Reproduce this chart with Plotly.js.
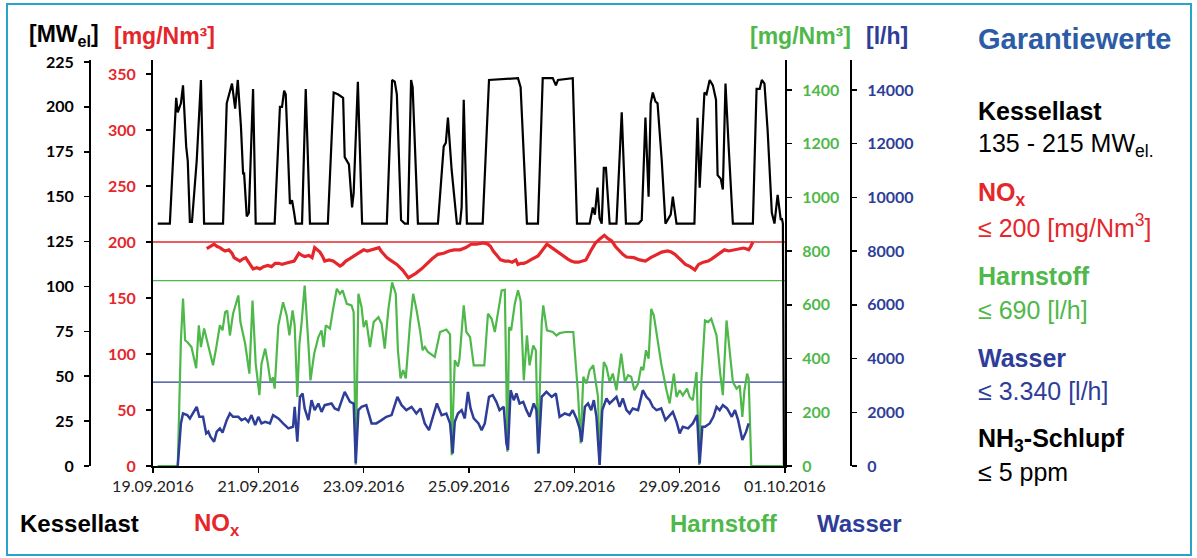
<!DOCTYPE html>
<html><head><meta charset="utf-8">
<script src="https://cdn.plot.ly/plotly-3.0.1.min.js"></script>
<style>html,body{margin:0;padding:0;background:#fff}#chart{width:1197px;height:558px}</style>
</head><body><div id="chart"></div>
<script>
// ---------- data (x = days after 19.09.2016 00:00) ----------
const tickDates = ['2016-09-19','2016-09-21','2016-09-23','2016-09-25','2016-09-27','2016-09-29','2016-10-01'];
const tickLabels = ['19.09.2016','21.09.2016','23.09.2016','25.09.2016','27.09.2016','29.09.2016','01.10.2016'];

const mwTicks = [0,25,50,75,100,125,150,175,200,225];
const noxTicks = [0,50,100,150,200,250,300,350];
const harnTicks = [0,200,400,600,800,1000,1200,1400];
const wasserTicks = [0,2000,4000,6000,8000,10000,12000,14000];

const kesselDays = [0.09,0.32,0.44,0.47,0.53,0.57,0.63,0.66,0.70,0.74,0.83,0.91,0.97,1.33,1.40,1.50,1.56,1.61,1.67,1.71,1.73,1.78,1.82,1.90,1.95,2.31,2.41,2.45,2.49,2.52,2.60,2.64,2.68,2.71,2.83,2.90,2.98,3.32,3.43,3.51,3.61,3.64,3.72,3.78,3.81,3.89,3.97,4.44,4.54,4.59,4.63,4.71,4.78,4.84,4.90,4.93,5.03,5.41,5.52,5.56,5.60,5.67,5.77,5.83,5.86,5.90,5.96,6.26,6.38,6.93,6.98,7.10,7.31,7.40,7.59,7.65,7.69,7.97,8.05,8.29,8.35,8.39,8.44,8.48,8.52,8.56,8.60,8.67,8.80,8.90,8.98,9.22,9.28,9.35,9.41,9.45,9.49,9.54,9.58,9.66,9.73,9.83,9.87,9.94,10.28,10.34,10.38,10.44,10.47,10.51,10.57,10.63,10.69,10.72,10.78,10.82,10.87,10.93,11.01,11.39,11.46,11.52,11.56,11.61,11.67,11.75,11.80,11.86,11.92,11.94,11.96,11.98];
const kesselMW = [135,135,205,197,202,212,178,170,136,136,170,215,135,135,202,213,199,215,189,163,163,139,141,210,135,135,200,200,209,207,146,148,141,135,135,210,135,135,208,207,205,172,168,144,152,214,135,135,215,214,207,137,135,135,215,211,135,135,178,180,194,165,135,135,144,204,135,135,215,216,211,135,135,216,216,212,215,216,135,135,144,140,155,138,135,166,166,135,135,197,135,135,137,194,150,202,208,203,202,170,135,140,150,135,135,194,155,190,208,207,215,212,204,162,160,154,213,178,135,135,210,210,215,213,187,141,135,151,137,138,135,0];

const noxDays = [1.02,1.09,1.16,1.22,1.27,1.33,1.37,1.44,1.50,1.54,1.60,1.65,1.71,1.76,1.83,1.90,1.97,2.03,2.10,2.18,2.25,2.32,2.39,2.45,2.52,2.60,2.68,2.72,2.77,2.83,2.88,2.96,3.02,3.07,3.12,3.17,3.22,3.26,3.34,3.42,3.48,3.55,3.60,3.66,3.73,3.80,3.90,4.00,4.07,4.14,4.22,4.29,4.33,4.38,4.44,4.50,4.56,4.63,4.74,4.85,4.92,4.99,5.10,5.20,5.30,5.41,5.52,5.62,5.72,5.83,5.94,6.04,6.14,6.25,6.30,6.36,6.41,6.46,6.53,6.60,6.68,6.75,6.82,6.89,6.93,6.99,7.04,7.10,7.17,7.24,7.31,7.40,7.48,7.57,7.66,7.73,7.80,7.87,7.94,8.01,8.08,8.15,8.22,8.31,8.40,8.49,8.57,8.64,8.71,8.78,8.85,8.92,8.99,9.06,9.13,9.24,9.35,9.45,9.56,9.66,9.77,9.84,9.91,10.01,10.11,10.20,10.29,10.33,10.36,10.45,10.54,10.61,10.68,10.76,10.85,10.93,11.02,11.11,11.21,11.26,11.31,11.35,11.39];
const noxValues = [194,196,198,196,195,193,192,193,190,186,184,183,185,186,181,176,177,176,178,179,178,181,181,180,181,182,183,186,190,188,187,188,186,195,193,191,187,183,184,183,181,178.5,180,183,185,187,190,193,192,193,194,195,192,189,186,184,182,180,175,168,170,172,176,181,185,189,190,192,193,193,195,198,198,199,199,198,196,192,188,184,183,183,182,184,180,181,181,182,184,186,187.5,193,198,195,192,189,187,185,183,182,182,183,184,192,199,203,206,203,201,196,192,189,186.6,186,186,184,183,186,189,191,192,191,189,184,180,178,175,178,180,182,183,185,187.5,190,193,192,193,194,194.6,194,193,196,200];

const harnDays = [0.09,0.47,0.53,0.57,0.61,0.66,0.73,0.82,0.87,0.91,0.97,1.04,1.14,1.20,1.27,1.32,1.37,1.41,1.46,1.52,1.62,1.66,1.75,1.83,1.89,1.95,2.02,2.06,2.13,2.17,2.23,2.28,2.31,2.38,2.47,2.54,2.59,2.65,2.69,2.74,2.78,2.82,2.88,2.95,2.99,3.06,3.14,3.20,3.24,3.28,3.36,3.41,3.49,3.55,3.60,3.68,3.77,3.81,3.85,3.90,3.96,4.00,4.05,4.12,4.19,4.28,4.34,4.40,4.47,4.54,4.61,4.65,4.70,4.75,4.80,4.88,4.94,5.00,5.07,5.12,5.16,5.22,5.35,5.45,5.57,5.64,5.67,5.73,5.79,5.82,5.90,5.95,6.02,6.09,6.22,6.29,6.36,6.43,6.49,6.55,6.62,6.68,6.71,6.73,6.76,6.80,6.87,6.93,6.98,7.04,7.10,7.15,7.22,7.27,7.31,7.38,7.41,7.48,7.59,7.66,7.72,7.83,7.98,8.07,8.12,8.17,8.23,8.29,8.36,8.41,8.45,8.48,8.53,8.56,8.61,8.67,8.73,8.80,8.89,8.96,9.02,9.08,9.14,9.21,9.27,9.31,9.36,9.41,9.46,9.51,9.56,9.65,9.75,9.81,9.89,9.94,10.00,10.06,10.14,10.19,10.25,10.32,10.37,10.41,10.48,10.54,10.60,10.70,10.77,10.82,10.89,10.95,11.01,11.08,11.14,11.19,11.23,11.28,11.31,11.36,11.95];
const harnValues = [0,0,468,623,468,460,443,364,524,443,512,457,375,440,524,505,573,579,486,567,635,536,455,344,616,381,264,381,437,394,313,330,288,524,610,560,486,579,524,257,455,530,672,455,319,418,480,505,443,524,512,573,660,641,654,604,598,573,5,641,592,517,542,443,536,554,530,437,585,684,641,431,326,357,326,530,641,585,505,431,443,425,406,499,508,490,40,394,370,400,598,499,480,375,375,375,567,548,499,579,654,656,332,53,517,505,604,654,616,319,486,375,449,430,47,530,598,505,499,486,495,499,499,270,84,332,307,357,375,313,257,4,300,387,369,313,344,282,418,313,338,332,282,307,369,357,431,400,585,560,493,381,282,233,344,257,282,263,288,257,245,350,4,307,542,536,548,486,344,264,542,437,313,288,300,183,282,344,325,0,0];

const wasserDays = [0.47,0.53,0.57,0.65,0.70,0.78,0.83,0.88,0.95,1.01,1.05,1.09,1.16,1.21,1.27,1.32,1.40,1.46,1.52,1.62,1.68,1.75,1.81,1.87,1.94,2.00,2.06,2.13,2.22,2.28,2.38,2.47,2.57,2.66,2.69,2.74,2.79,2.84,2.88,2.95,3.01,3.07,3.14,3.20,3.26,3.39,3.45,3.52,3.64,3.74,3.81,3.85,3.90,3.96,4.05,4.15,4.24,4.34,4.43,4.53,4.64,4.72,4.81,4.91,5.00,5.08,5.16,5.24,5.33,5.39,5.48,5.57,5.64,5.69,5.73,5.79,5.86,5.92,5.98,6.03,6.09,6.18,6.24,6.30,6.38,6.45,6.52,6.58,6.66,6.71,6.74,6.79,6.85,6.90,6.96,7.03,7.09,7.15,7.23,7.28,7.32,7.38,7.47,7.57,7.65,7.72,7.82,7.91,7.97,8.04,8.10,8.14,8.20,8.26,8.32,8.37,8.42,8.48,8.53,8.61,8.67,8.73,8.80,8.86,8.92,8.99,9.05,9.11,9.21,9.30,9.37,9.43,9.49,9.56,9.65,9.73,9.81,9.87,9.94,10.00,10.06,10.16,10.25,10.33,10.38,10.43,10.48,10.57,10.64,10.70,10.76,10.82,10.90,10.99,11.05,11.11,11.19,11.26,11.31];
const wasserValues = [0,1585,1956,1900,1770,2016,2202,1831,1831,1214,1280,1090,903,1280,1400,1240,1708,1956,1831,1831,1708,1770,1646,1894,1522,1831,1585,1646,1585,1894,1770,1585,1400,1460,2202,903,2573,2700,2143,1708,2451,2080,2328,2016,2265,2328,2143,2080,2760,2388,2328,100,2080,2202,2265,1585,1585,1708,1831,1894,2573,2265,2080,2202,1956,2143,1585,1337,1894,2328,1894,1956,1585,472,1646,1956,2080,1770,2760,2143,1770,1585,1337,1585,2573,2636,2388,2080,2202,843,600,2822,2450,2700,2328,2388,2080,1831,2328,2080,472,2573,2760,2573,2700,1831,1956,1894,2080,1770,1400,903,2202,2328,2080,2451,1831,37,2080,2514,2328,2451,2573,2202,2514,2080,1956,2143,2080,2822,2573,2451,2202,2080,2143,1708,1894,2016,1646,1214,1460,1400,1585,1894,100,1460,1460,1585,1831,2202,2080,2265,2143,1831,2080,1708,965,1270,1585];

// guide / limit lines as drawn in the picture
const noxLimit = 200;      // mg/Nm³ (red line)
const harnLimit = 690;     // green line
const wasserLine = 3120;   // blue line (as drawn)

// ---------- helpers ----------
const W = 1197, H = 558;
const base = Date.UTC(2016, 8, 19);
const toDate = d => new Date(base + d * 86400000).toISOString().slice(0, 19).replace('T', ' ');
const px = x => x / W;          // pixel -> paper x (margins are 0)
const py = y => 1 - y / H;      // pixel -> paper y

const RED = '#e5262b', GREEN = '#4fb84a', BLUE = '#2e3d98', GBLUE = '#2d5ca6';

const plotL = 153, plotR = 785, plotT = 60, plotB = 466;

const traces = [
  {x: kesselDays.map(toDate), y: kesselMW, yaxis: 'y', mode: 'lines', line: {color: '#000', width: 2.2}},
  {x: harnDays.map(toDate), y: harnValues, yaxis: 'y3', mode: 'lines', line: {color: GREEN, width: 2.2}},
  {x: wasserDays.map(toDate), y: wasserValues, yaxis: 'y4', mode: 'lines', line: {color: BLUE, width: 2.5}},
  {x: noxDays.map(toDate), y: noxValues, yaxis: 'y2', mode: 'lines', line: {color: RED, width: 3.2}}
];

const tickFont = (c) => ({family: 'Lato, "Open Sans", sans-serif', size: 16, color: c, weight: 'bold'});
const yCommon = {
  showgrid: false, zeroline: false, showline: true, linecolor: '#000', linewidth: 2,
  ticks: 'outside', ticklen: 5, tickwidth: 1.5, tickcolor: '#000', ticklabelstandoff: 7,
  fixedrange: true, automargin: false
};
const span = (valAtTick, tickPx) => valAtTick * (plotB - plotT) / (plotB - tickPx);

const layout = {
  width: W, height: H,
  margin: {l: 0, r: 0, t: 0, b: 0},
  paper_bgcolor: '#fff', plot_bgcolor: 'rgba(0,0,0,0)',
  showlegend: false, hovermode: false,
  xaxis: {
    domain: [px(plotL), px(plotR)], type: 'date',
    range: [toDate(0), toDate(12)],
    tickvals: tickDates, ticktext: tickLabels,
    showgrid: false, zeroline: false, showline: true, linecolor: '#000', linewidth: 2,
    ticks: 'outside', ticklen: 5, tickwidth: 1.5, tickcolor: '#000',
    tickfont: {family: 'Lato, "Open Sans", sans-serif', size: 16, color: '#222'},
    anchor: 'y2', automargin: false
  },
  yaxis: Object.assign({}, yCommon, {
    domain: [py(plotB), py(plotT)], anchor: 'free', position: px(90), side: 'left',
    range: [0, span(225, 62)], tickvals: mwTicks, ticktext: mwTicks.map(String),
    tickfont: tickFont('#000')
  }),
  yaxis2: Object.assign({}, yCommon, {
    overlaying: 'y', anchor: 'x', side: 'left',
    range: [0, span(350, 74)], tickvals: noxTicks, ticktext: noxTicks.map(String),
    tickfont: tickFont(RED)
  }),
  yaxis3: Object.assign({}, yCommon, {
    overlaying: 'y', anchor: 'x', side: 'right',
    range: [0, span(1400, 90)], tickvals: harnTicks, ticktext: harnTicks.map(String),
    tickfont: tickFont(GREEN)
  }),
  yaxis4: Object.assign({}, yCommon, {
    overlaying: 'y', anchor: 'free', position: px(851), side: 'right',
    range: [0, span(14000, 90)], tickvals: wasserTicks, ticktext: wasserTicks.map(String),
    tickfont: tickFont(BLUE)
  }),
  shapes: [
    {type: 'line', xref: 'paper', yref: 'y2', x0: px(plotL), x1: px(plotR), y0: noxLimit, y1: noxLimit, line: {color: RED, width: 1.3}, layer: 'below'},
    {type: 'line', xref: 'paper', yref: 'y3', x0: px(plotL), x1: px(plotR), y0: harnLimit, y1: harnLimit, line: {color: GREEN, width: 1.3}, layer: 'below'},
    {type: 'line', xref: 'paper', yref: 'y4', x0: px(plotL), x1: px(plotR), y0: wasserLine, y1: wasserLine, line: {color: BLUE, width: 1.3}, layer: 'below'},
    {type: 'rect', xref: 'paper', yref: 'paper', x0: px(7), x1: px(1191), y0: py(555), y1: py(4), line: {color: '#2aa3cc', width: 2}}
  ],
  annotations: []
};

const ann = (text, x, y, color, size, bold, xanchor) => layout.annotations.push({
  text: bold ? '<b>' + text + '</b>' : text, xref: 'paper', yref: 'paper',
  x: px(x), y: py(y), xanchor: xanchor || 'left', yanchor: 'middle', showarrow: false,
  font: {family: '"Liberation Sans", Arial, sans-serif', size: size, color: color}
});

// axis unit labels
ann('[MW<sub>el</sub>]', 27, 36, '#000', 23, true);
ann('[mg/Nm³]', 112, 36, RED, 23, true);
ann('[mg/Nm³]', 853, 36, GREEN, 23, true, 'right');
ann('[l/h]', 864, 36, BLUE, 23, true);

// right side guarantee panel
ann('Garantiewerte', 976, 38.5, GBLUE, 29, true);
ann('Kessellast', 976, 111.5, '#000', 25, true);
ann('135 - 215 MW<sub>el.</sub>', 976, 145, '#000', 25, false);
ann('NO<sub>x</sub>', 976, 194, RED, 25, true);
ann('≤ 200 [mg/Nm<sup>3</sup>]', 976, 226, RED, 25, false);
ann('Harnstoff', 976, 276.5, GREEN, 25, true);
ann('≤ 690 [l/h]', 976, 310, GREEN, 25, false);
ann('Wasser', 976, 358, BLUE, 25, true);
ann('≤ 3.340 [l/h]', 976, 390.5, BLUE, 25, false);
ann('NH<sub>3</sub>-Schlupf', 976, 439.5, '#000', 25, true);
ann('≤ 5 ppm', 976, 471.7, '#000', 25, false);

// bottom series labels
ann('Kessellast', 18, 523, '#000', 24, true);
ann('NO<sub>x</sub>', 192, 524, RED, 24, true);
ann('Harnstoff', 668, 523, GREEN, 24, true);
ann('Wasser', 815, 523, BLUE, 24, true);

Plotly.newPlot('chart', traces, layout, {staticPlot: true, displayModeBar: false});
</script>
</body></html>
